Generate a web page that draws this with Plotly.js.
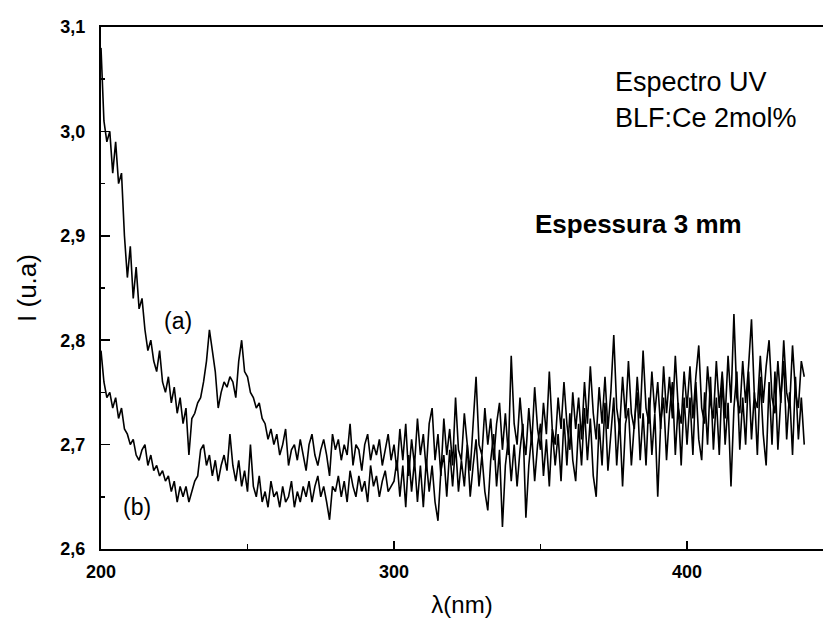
<!DOCTYPE html>
<html>
<head>
<meta charset="utf-8">
<script src="https://cdn.plot.ly/plotly-3.0.1.min.js"></script>
<style>html,body{margin:0;padding:0;background:#fff;}#chart{width:823px;height:625px;}</style>
</head>
<body>
<div id="chart"></div>
<script>
// Wavelength (nm)
const wavelength = [
200,201,202,203,204,205,206,207,208,209,
210,211,212,213,214,215,216,217,218,219,
220,221,222,223,224,225,226,227,228,229,
230,231,232,233,234,235,236,237,238,239,
240,241,242,243,244,245,246,247,248,249,
250,251,252,253,254,255,256,257,258,259,
260,261,262,263,264,265,266,267,268,269,
270,271,272,273,274,275,276,277,278,279,
280,281,282,283,284,285,286,287,288,289,
290,291,292,293,294,295,296,297,298,299,
300,301,302,303,304,305,306,307,308,309,
310,311,312,313,314,315,316,317,318,319,
320,321,322,323,324,325,326,327,328,329,
330,331,332,333,334,335,336,337,338,339,
340,341,342,343,344,345,346,347,348,349,
350,351,352,353,354,355,356,357,358,359,
360,361,362,363,364,365,366,367,368,369,
370,371,372,373,374,375,376,377,378,379,
380,381,382,383,384,385,386,387,388,389,
390,391,392,393,394,395,396,397,398,399,
400,401,402,403,404,405,406,407,408,409,
410,411,412,413,414,415,416,417,418,419,
420,421,422,423,424,425,426,427,428,429,
430,431,432,433,434,435,436,437,438,439,440];

// Series (a)
const seriesA = [
3.08,3.01,2.99,3.00,2.96,2.99,2.95,2.96,2.90,2.86,
2.89,2.84,2.87,2.83,2.84,2.81,2.79,2.80,2.78,2.77,
2.79,2.76,2.75,2.765,2.74,2.755,2.73,2.745,2.72,2.735,
2.69,2.725,2.73,2.74,2.745,2.76,2.78,2.81,2.79,2.77,
2.735,2.75,2.76,2.755,2.765,2.76,2.745,2.78,2.80,2.77,
2.765,2.75,2.745,2.735,2.74,2.725,2.72,2.705,2.715,2.70,
2.71,2.69,2.70,2.715,2.68,2.695,2.70,2.685,2.705,2.69,
2.675,2.70,2.71,2.69,2.68,2.695,2.705,2.69,2.67,2.71,
2.695,2.705,2.685,2.70,2.69,2.72,2.68,2.70,2.695,2.675,
2.70,2.71,2.685,2.70,2.69,2.705,2.68,2.695,2.71,2.685,
2.70,2.675,2.715,2.685,2.72,2.67,2.705,2.68,2.725,2.69,
2.71,2.675,2.72,2.735,2.685,2.71,2.67,2.725,2.69,2.715,
2.68,2.745,2.695,2.685,2.73,2.70,2.675,2.72,2.765,2.70,
2.69,2.735,2.70,2.725,2.685,2.72,2.74,2.695,2.73,2.69,
2.785,2.72,2.70,2.745,2.71,2.69,2.735,2.70,2.755,2.715,
2.695,2.74,2.71,2.77,2.715,2.70,2.745,2.715,2.76,2.72,
2.695,2.75,2.715,2.745,2.705,2.76,2.72,2.775,2.73,2.705,
2.755,2.72,2.765,2.715,2.75,2.805,2.735,2.715,2.765,2.725,
2.78,2.73,2.715,2.765,2.725,2.79,2.735,2.72,2.77,2.73,
2.76,2.715,2.775,2.73,2.765,2.725,2.785,2.735,2.72,2.77,
2.735,2.775,2.725,2.765,2.795,2.735,2.72,2.775,2.74,2.725,
2.78,2.735,2.77,2.725,2.785,2.74,2.825,2.745,2.73,2.78,
2.74,2.775,2.82,2.745,2.735,2.785,2.74,2.775,2.80,2.745,
2.73,2.78,2.74,2.80,2.75,2.735,2.795,2.75,2.735,2.78,2.765];

// Series (b)
const seriesB = [
2.79,2.76,2.745,2.75,2.735,2.745,2.725,2.735,2.715,2.71,
2.70,2.705,2.69,2.685,2.695,2.70,2.68,2.69,2.675,2.68,
2.67,2.675,2.665,2.67,2.655,2.665,2.645,2.66,2.65,2.66,
2.645,2.655,2.665,2.67,2.695,2.70,2.68,2.69,2.67,2.685,
2.665,2.68,2.69,2.675,2.71,2.68,2.665,2.685,2.66,2.675,
2.655,2.70,2.66,2.65,2.67,2.645,2.655,2.64,2.665,2.65,
2.655,2.64,2.66,2.645,2.65,2.665,2.64,2.655,2.645,2.66,
2.65,2.665,2.645,2.66,2.67,2.65,2.66,2.645,2.628,2.66,
2.655,2.67,2.65,2.665,2.645,2.675,2.66,2.65,2.67,2.655,
2.665,2.645,2.68,2.66,2.67,2.65,2.665,2.675,2.655,2.66,
2.665,2.685,2.65,2.68,2.64,2.69,2.655,2.685,2.645,2.68,
2.64,2.685,2.655,2.68,2.645,2.627,2.675,2.69,2.65,2.695,
2.66,2.70,2.655,2.685,2.66,2.70,2.65,2.68,2.705,2.66,
2.69,2.655,2.637,2.685,2.71,2.66,2.695,2.621,2.68,2.705,
2.665,2.70,2.66,2.695,2.72,2.63,2.68,2.71,2.665,2.70,
2.72,2.67,2.705,2.66,2.715,2.68,2.71,2.665,2.725,2.68,
2.73,2.685,2.665,2.72,2.68,2.735,2.685,2.725,2.67,2.65,
2.72,2.68,2.74,2.675,2.715,2.745,2.68,2.725,2.66,2.72,
2.735,2.68,2.72,2.75,2.685,2.73,2.68,2.745,2.69,2.73,
2.65,2.72,2.745,2.685,2.73,2.76,2.69,2.74,2.68,2.745,
2.70,2.745,2.69,2.76,2.705,2.685,2.75,2.70,2.765,2.695,
2.745,2.69,2.765,2.70,2.74,2.66,2.735,2.77,2.695,2.745,
2.70,2.77,2.705,2.75,2.69,2.765,2.71,2.68,2.76,2.70,
2.77,2.695,2.745,2.78,2.705,2.75,2.69,2.765,2.705,2.745,2.70];

const xTickVals = [200, 300, 400];
const xMinorVals = [250, 350];
const seriesLabels = ['(a)', '(b)'];

const FONT = 'Liberation Sans, Arial, Helvetica, sans-serif';

const traces = [
  {x: wavelength, y: seriesA, type: 'scatter', mode: 'lines', name: seriesLabels[0],
   line: {color: '#000', width: 1.6}},
  {x: wavelength, y: seriesB, type: 'scatter', mode: 'lines', name: seriesLabels[1],
   line: {color: '#000', width: 1.6}}
];

const layout = {
  width: 823, height: 625,
  margin: {l: 101, r: 0, t: 27, b: 76},
  paper_bgcolor: '#fff', plot_bgcolor: '#fff',
  showlegend: false,
  separators: ',.',
  font: {family: FONT, color: '#000'},
  xaxis: {
    range: [200, 446.4],
    tickvals: xTickVals,
    ticks: 'inside', ticklen: 8, tickwidth: 1.5, tickcolor: '#000',
    minor: {tickvals: xMinorVals, ticks: 'inside', ticklen: 5, tickwidth: 1.5, tickcolor: '#000'},
    showline: true, linewidth: 2, linecolor: '#000', mirror: true,
    showgrid: false, zeroline: false,
    tickfont: {family: FONT, size: 18, color: '#000', weight: 'bold'},
    ticklabelstandoff: 5,
    title: {text: 'λ(nm)', font: {family: FONT, size: 24, color: '#000'}, standoff: 16}
  },
  yaxis: {
    range: [2.6, 3.1],
    dtick: 0.1, tick0: 2.6, tickformat: '.1f',
    ticks: 'inside', ticklen: 9, tickwidth: 1.5, tickcolor: '#000',
    minor: {dtick: 0.05, ticks: 'inside', ticklen: 4, tickwidth: 1.5, tickcolor: '#000'},
    showline: true, linewidth: 2, linecolor: '#000', mirror: false,
    showgrid: false, zeroline: false,
    tickfont: {family: FONT, size: 18, color: '#000', weight: 'bold'},
    ticklabelstandoff: 10,
    title: {text: 'I (u.a)', font: {family: FONT, size: 26, color: '#000'}, standoff: 16}
  },
  annotations: [
    {xref: 'x', yref: 'y', x: 374.7, y: 3.047, xanchor: 'left', yanchor: 'middle', showarrow: false,
     text: 'Espectro UV', font: {family: FONT, size: 27, color: '#000'}},
    {xref: 'x', yref: 'y', x: 374.7, y: 3.013, xanchor: 'left', yanchor: 'middle', showarrow: false,
     text: 'BLF:Ce 2mol%', font: {family: FONT, size: 27, color: '#000'}},
    {xref: 'x', yref: 'y', x: 347.4, y: 2.911, xanchor: 'left', yanchor: 'middle', showarrow: false,
     text: 'Espessura 3 mm', font: {family: FONT, size: 26, color: '#000', weight: 'bold'}},
    {xref: 'x', yref: 'y', x: 226.3, y: 2.818, xanchor: 'center', yanchor: 'middle', showarrow: false,
     text: seriesLabels[0], font: {family: FONT, size: 23, color: '#000'}},
    {xref: 'x', yref: 'y', x: 212.3, y: 2.64, xanchor: 'center', yanchor: 'middle', showarrow: false,
     text: seriesLabels[1], font: {family: FONT, size: 23, color: '#000'}}
  ]
};

Plotly.newPlot('chart', traces, layout, {displayModeBar: false, staticPlot: true});
</script>
</body>
</html>
